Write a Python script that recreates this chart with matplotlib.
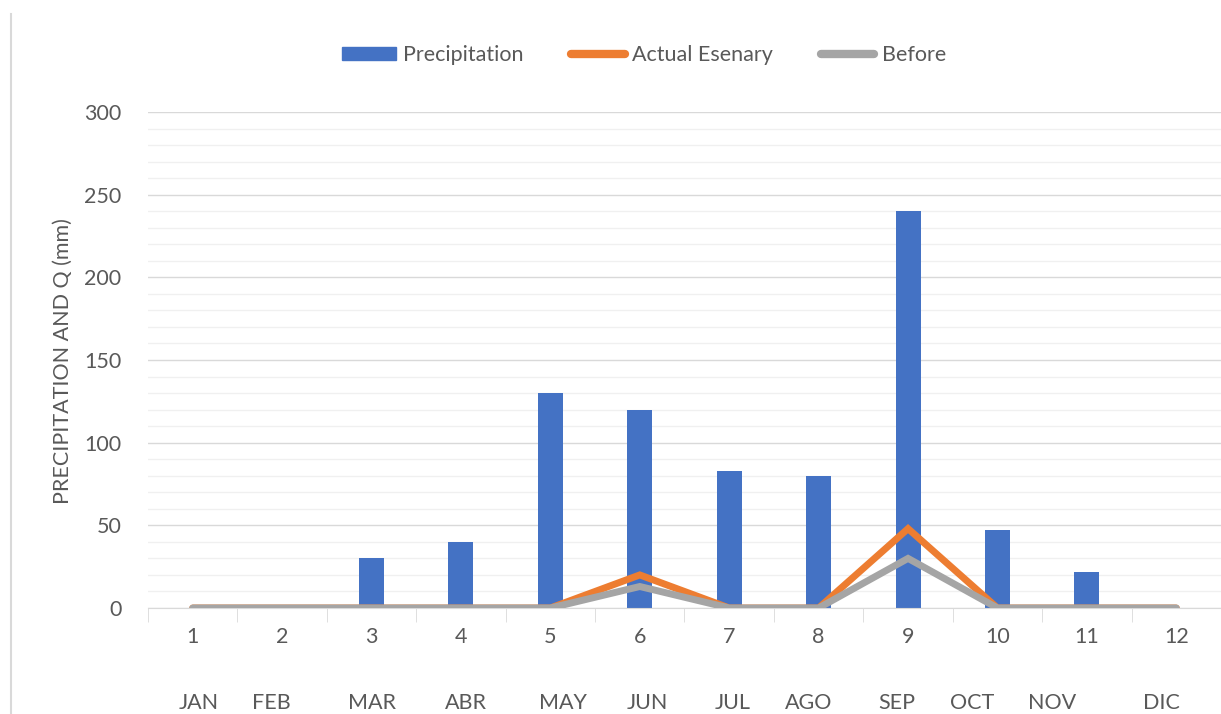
import matplotlib.pyplot as plt
import matplotlib.lines as mlines
import matplotlib.patches as mpatches
from matplotlib.ticker import MultipleLocator

plt.rcParams["font.family"] = ["Lato", "DejaVu Sans"]

# data
month_num = [1, 2, 3, 4, 5, 6, 7, 8, 9, 10, 11, 12]
month_names = ["JAN", "FEB", "MAR", "ABR", "MAY", "JUN",
               "JUL", "AGO", "SEP", "OCT", "NOV", "DIC"]
precipitation = [0, 0, 30, 40, 130, 120, 83, 80, 240, 47, 22, 0]
actual = [0, 0, 0, 0, 0, 20, 0, 0, 48, 0, 0, 0]
before = [0, 0, 0, 0, 0, 13, 0, 0, 30, 0, 0, 0]

# month label x positions in the picture (pixels)
month_px = [199, 271, 372, 466, 563, 647, 733, 809, 897, 972, 1052, 1161]

txt = "#595959"
blue = "#4472C4"
orange = "#ED7D31"
gray = "#A5A5A5"

W, H = 1221, 714
fig = plt.figure(figsize=(W / 100, H / 100), dpi=100)
ax = fig.add_axes([148 / W, (H - 608) / H, 1 - 148 / W, (608 - 112) / H])

ax.bar(month_num, precipitation, width=0.28, color=blue, zorder=2)
ax.plot(month_num, actual, color=orange, linewidth=5, solid_capstyle="round",
        solid_joinstyle="miter", zorder=3)
ax.plot(month_num, before, color=gray, linewidth=5, solid_capstyle="round",
        solid_joinstyle="miter", zorder=4)

ax.set_ylim(0, 300)
ax.set_xlim(0.5, 0.5 + (W - 148) / 90.6)
ax.yaxis.set_major_locator(MultipleLocator(50))
ax.yaxis.set_minor_locator(MultipleLocator(10))
ax.grid(axis="y", which="major", color="#d9d9d9", linewidth=1, zorder=0)
ax.grid(axis="y", which="minor", color="#f0f0f0", linewidth=1, zorder=0)
ax.set_axisbelow(True)

ax.set_xticks(month_num)
ax.set_xticks([m + 0.5 for m in [0] + month_num], minor=True)
ax.tick_params(axis="x", which="major", length=0, pad=14, labelsize=15.5, labelcolor=txt)
ax.tick_params(axis="x", which="minor", length=10, color="#d9d9d9", direction="out")
ax.tick_params(axis="y", which="both", length=0, pad=19, labelsize=15.5, labelcolor=txt)

for s in ["top", "right", "left"]:
    ax.spines[s].set_visible(False)
ax.spines["bottom"].set_color("#d9d9d9")

fig.text(63 / W, 1 - 361 / H, "PRECIPITATION AND Q (mm)", rotation=90,
         ha="center", va="center", fontsize=15.5, color=txt)

for name, px in zip(month_names, month_px):
    fig.text(px / W, 1 - 703 / H, name, ha="center", va="center",
             fontsize=15.5, color=txt)

# left border of the chart area
fig.add_artist(mlines.Line2D([11 / W, 11 / W], [0, 1 - 14 / H],
                             color="#d9d9d9", linewidth=1.5))

handles = [
    mpatches.Patch(color=blue, label="Precipitation"),
    mlines.Line2D([], [], color=orange, linewidth=6, solid_capstyle="round", label="Actual Esenary"),
    mlines.Line2D([], [], color=gray, linewidth=6, solid_capstyle="round", label="Before"),
]
fig.legend(handles=handles, loc="center", bbox_to_anchor=(644 / W, 1 - 55 / H),
           ncol=3, frameon=False, fontsize=15.5, labelcolor=txt,
           handlelength=2.5, handleheight=0.6, handletextpad=0.35, columnspacing=2.2)

fig.savefig("out.png", dpi=100)
